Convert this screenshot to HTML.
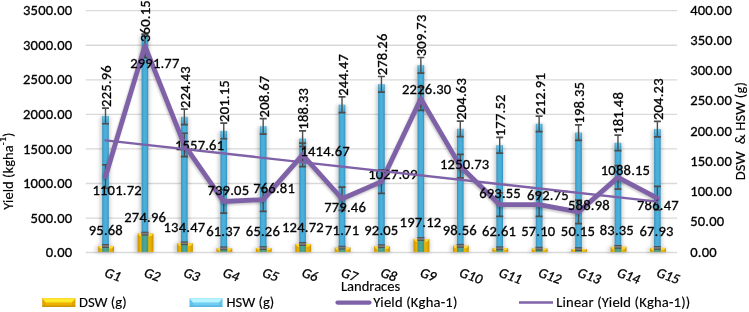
<!DOCTYPE html>
<html><head><meta charset="utf-8"><style>
html,body{margin:0;padding:0;background:#fff;width:749px;height:312px;overflow:hidden}
svg{display:block}
</style></head><body>
<svg width="749" height="312" viewBox="0 0 749 312" font-family="Carlito, 'Liberation Sans', sans-serif" font-size="14.6" letter-spacing="0.2" style="font-size-adjust:0.4775">
<defs>
<linearGradient id="gd" x1="0" y1="0" x2="1" y2="0">
<stop offset="0" stop-color="#C89400"/><stop offset="0.18" stop-color="#E9B000"/><stop offset="0.5" stop-color="#F2BC00"/><stop offset="0.82" stop-color="#E9B000"/><stop offset="1" stop-color="#C89400"/>
</linearGradient>
<linearGradient id="gh" x1="0" y1="0" x2="1" y2="0">
<stop offset="0" stop-color="#3590BC"/><stop offset="0.25" stop-color="#45AAD6"/><stop offset="0.5" stop-color="#4CB2DC"/><stop offset="0.75" stop-color="#45AAD6"/><stop offset="1" stop-color="#3590BC"/>
</linearGradient>
<linearGradient id="gt" x1="0" y1="0" x2="1" y2="0">
<stop offset="0" stop-color="#3F9488"/><stop offset="0.5" stop-color="#4DA89C"/><stop offset="1" stop-color="#3F9488"/>
</linearGradient>
<linearGradient id="gl1" x1="0" y1="0" x2="0" y2="1">
<stop offset="0" stop-color="#FFE45A"/><stop offset="0.5" stop-color="#FFD21E"/><stop offset="1" stop-color="#D9A000"/>
</linearGradient>
<linearGradient id="gl2" x1="0" y1="0" x2="0" y2="1">
<stop offset="0" stop-color="#C8F2FC"/><stop offset="0.5" stop-color="#9BE0F5"/><stop offset="1" stop-color="#55B8DE"/>
</linearGradient>
<linearGradient id="gtop" x1="0" y1="0" x2="0" y2="1"><stop offset="0" stop-color="#7FD8F4" stop-opacity="0.75"/><stop offset="1" stop-color="#7FD8F4" stop-opacity="0"/></linearGradient>
<filter id="sh" x="-50%" y="-10%" width="200%" height="120%"><feGaussianBlur stdDeviation="2.3"/></filter>
<filter id="sh2" x="-10%" y="-20%" width="120%" height="140%"><feGaussianBlur stdDeviation="1.3"/></filter>
</defs>
<rect width="749" height="312" fill="#fff"/>
<line x1="85.79" y1="218.04" x2="677.09" y2="218.04" stroke="#D9D9D9" stroke-width="1.3"/>
<line x1="85.79" y1="183.49" x2="677.09" y2="183.49" stroke="#D9D9D9" stroke-width="1.3"/>
<line x1="85.79" y1="148.93" x2="677.09" y2="148.93" stroke="#D9D9D9" stroke-width="1.3"/>
<line x1="85.79" y1="114.37" x2="677.09" y2="114.37" stroke="#D9D9D9" stroke-width="1.3"/>
<line x1="85.79" y1="79.81" x2="677.09" y2="79.81" stroke="#D9D9D9" stroke-width="1.3"/>
<line x1="85.79" y1="45.26" x2="677.09" y2="45.26" stroke="#D9D9D9" stroke-width="1.3"/>
<line x1="85.79" y1="10.70" x2="677.09" y2="10.70" stroke="#D9D9D9" stroke-width="1.3"/>
<line x1="85.79" y1="252.60" x2="677.09" y2="252.60" stroke="#D9D9D9" stroke-width="1.5"/>
<g filter="url(#sh)" fill="#000" opacity="0.24">
<rect x="100.60" y="116.45" width="9.0" height="136.15"/>
<rect x="96.00" y="246.49" width="18.2" height="6.11"/>
<rect x="140.02" y="35.30" width="9.0" height="217.30"/>
<rect x="135.42" y="234.10" width="18.2" height="18.50"/>
<rect x="179.44" y="117.38" width="9.0" height="135.22"/>
<rect x="174.84" y="243.81" width="18.2" height="8.79"/>
<rect x="218.86" y="131.45" width="9.0" height="121.15"/>
<rect x="214.26" y="248.86" width="18.2" height="3.74"/>
<rect x="258.28" y="126.91" width="9.0" height="125.69"/>
<rect x="253.68" y="248.59" width="18.2" height="4.01"/>
<rect x="297.70" y="139.21" width="9.0" height="113.39"/>
<rect x="293.10" y="244.48" width="18.2" height="8.12"/>
<rect x="337.12" y="105.26" width="9.0" height="147.34"/>
<rect x="332.52" y="248.14" width="18.2" height="4.46"/>
<rect x="376.54" y="84.82" width="9.0" height="167.78"/>
<rect x="371.94" y="246.74" width="18.2" height="5.86"/>
<rect x="415.96" y="65.79" width="9.0" height="186.81"/>
<rect x="411.36" y="239.48" width="18.2" height="13.12"/>
<rect x="455.38" y="129.35" width="9.0" height="123.25"/>
<rect x="450.78" y="246.29" width="18.2" height="6.31"/>
<rect x="494.80" y="145.74" width="9.0" height="106.86"/>
<rect x="490.20" y="248.77" width="18.2" height="3.83"/>
<rect x="534.22" y="124.34" width="9.0" height="128.26"/>
<rect x="529.62" y="249.15" width="18.2" height="3.45"/>
<rect x="573.64" y="133.15" width="9.0" height="119.45"/>
<rect x="569.04" y="249.63" width="18.2" height="2.97"/>
<rect x="613.06" y="143.35" width="9.0" height="109.25"/>
<rect x="608.46" y="247.34" width="18.2" height="5.26"/>
<rect x="652.48" y="129.59" width="9.0" height="123.01"/>
<rect x="647.88" y="248.41" width="18.2" height="4.19"/>
</g>
<rect x="98.20" y="245.99" width="15.8" height="5.91" fill="url(#gd)"/>
<path d="M98.20 245.99h15.8l-2 2.50h-11.8z" fill="#FFD93A"/>
<rect x="137.62" y="233.60" width="15.8" height="18.30" fill="url(#gd)"/>
<path d="M137.62 233.60h15.8l-2 2.50h-11.8z" fill="#FFD93A"/>
<rect x="177.04" y="243.31" width="15.8" height="8.59" fill="url(#gd)"/>
<path d="M177.04 243.31h15.8l-2 2.50h-11.8z" fill="#FFD93A"/>
<rect x="216.46" y="248.36" width="15.8" height="3.54" fill="url(#gd)"/>
<path d="M216.46 248.36h15.8l-2 1.77h-11.8z" fill="#FFD93A"/>
<rect x="255.88" y="248.09" width="15.8" height="3.81" fill="url(#gd)"/>
<path d="M255.88 248.09h15.8l-2 1.91h-11.8z" fill="#FFD93A"/>
<rect x="295.30" y="243.98" width="15.8" height="7.92" fill="url(#gd)"/>
<path d="M295.30 243.98h15.8l-2 2.50h-11.8z" fill="#FFD93A"/>
<rect x="334.72" y="247.64" width="15.8" height="4.26" fill="url(#gd)"/>
<path d="M334.72 247.64h15.8l-2 2.13h-11.8z" fill="#FFD93A"/>
<rect x="374.14" y="246.24" width="15.8" height="5.66" fill="url(#gd)"/>
<path d="M374.14 246.24h15.8l-2 2.50h-11.8z" fill="#FFD93A"/>
<rect x="413.56" y="238.98" width="15.8" height="12.92" fill="url(#gd)"/>
<path d="M413.56 238.98h15.8l-2 2.50h-11.8z" fill="#FFD93A"/>
<rect x="452.98" y="245.79" width="15.8" height="6.11" fill="url(#gd)"/>
<path d="M452.98 245.79h15.8l-2 2.50h-11.8z" fill="#FFD93A"/>
<rect x="492.40" y="248.27" width="15.8" height="3.63" fill="url(#gd)"/>
<path d="M492.40 248.27h15.8l-2 1.81h-11.8z" fill="#FFD93A"/>
<rect x="531.82" y="248.65" width="15.8" height="3.25" fill="url(#gd)"/>
<path d="M531.82 248.65h15.8l-2 1.62h-11.8z" fill="#FFD93A"/>
<rect x="571.24" y="249.13" width="15.8" height="2.77" fill="url(#gd)"/>
<path d="M571.24 249.13h15.8l-2 1.38h-11.8z" fill="#FFD93A"/>
<rect x="610.66" y="246.84" width="15.8" height="5.06" fill="url(#gd)"/>
<path d="M610.66 246.84h15.8l-2 2.50h-11.8z" fill="#FFD93A"/>
<rect x="650.08" y="247.91" width="15.8" height="3.99" fill="url(#gd)"/>
<path d="M650.08 247.91h15.8l-2 2.00h-11.8z" fill="#FFD93A"/>
<rect x="102.20" y="115.95" width="6.6" height="130.04" fill="url(#gh)"/>
<rect x="102.20" y="245.99" width="6.6" height="5.91" fill="url(#gt)"/>
<rect x="103.00" y="115.95" width="5.00" height="6" fill="url(#gtop)"/>
<rect x="141.62" y="34.80" width="6.6" height="198.80" fill="url(#gh)"/>
<rect x="141.62" y="233.60" width="6.6" height="18.30" fill="url(#gt)"/>
<rect x="142.42" y="34.80" width="5.00" height="6" fill="url(#gtop)"/>
<rect x="181.04" y="116.88" width="6.6" height="126.43" fill="url(#gh)"/>
<rect x="181.04" y="243.31" width="6.6" height="8.59" fill="url(#gt)"/>
<rect x="181.84" y="116.88" width="5.00" height="6" fill="url(#gtop)"/>
<rect x="220.46" y="130.95" width="6.6" height="117.40" fill="url(#gh)"/>
<rect x="220.46" y="248.36" width="6.6" height="3.54" fill="url(#gt)"/>
<rect x="221.26" y="130.95" width="5.00" height="6" fill="url(#gtop)"/>
<rect x="259.88" y="126.41" width="6.6" height="121.68" fill="url(#gh)"/>
<rect x="259.88" y="248.09" width="6.6" height="3.81" fill="url(#gt)"/>
<rect x="260.68" y="126.41" width="5.00" height="6" fill="url(#gtop)"/>
<rect x="299.30" y="138.71" width="6.6" height="105.27" fill="url(#gh)"/>
<rect x="299.30" y="243.98" width="6.6" height="7.92" fill="url(#gt)"/>
<rect x="300.10" y="138.71" width="5.00" height="6" fill="url(#gtop)"/>
<rect x="338.72" y="104.76" width="6.6" height="142.89" fill="url(#gh)"/>
<rect x="338.72" y="247.64" width="6.6" height="4.26" fill="url(#gt)"/>
<rect x="339.52" y="104.76" width="5.00" height="6" fill="url(#gtop)"/>
<rect x="378.14" y="84.32" width="6.6" height="161.92" fill="url(#gh)"/>
<rect x="378.14" y="246.24" width="6.6" height="5.66" fill="url(#gt)"/>
<rect x="378.94" y="84.32" width="5.00" height="6" fill="url(#gtop)"/>
<rect x="417.56" y="65.29" width="6.6" height="173.69" fill="url(#gh)"/>
<rect x="417.56" y="238.98" width="6.6" height="12.92" fill="url(#gt)"/>
<rect x="418.36" y="65.29" width="5.00" height="6" fill="url(#gtop)"/>
<rect x="456.98" y="128.85" width="6.6" height="116.94" fill="url(#gh)"/>
<rect x="456.98" y="245.79" width="6.6" height="6.11" fill="url(#gt)"/>
<rect x="457.78" y="128.85" width="5.00" height="6" fill="url(#gtop)"/>
<rect x="496.40" y="145.24" width="6.6" height="103.03" fill="url(#gh)"/>
<rect x="496.40" y="248.27" width="6.6" height="3.63" fill="url(#gt)"/>
<rect x="497.20" y="145.24" width="5.00" height="6" fill="url(#gtop)"/>
<rect x="535.82" y="123.84" width="6.6" height="124.81" fill="url(#gh)"/>
<rect x="535.82" y="248.65" width="6.6" height="3.25" fill="url(#gt)"/>
<rect x="536.62" y="123.84" width="5.00" height="6" fill="url(#gtop)"/>
<rect x="575.24" y="132.65" width="6.6" height="116.49" fill="url(#gh)"/>
<rect x="575.24" y="249.13" width="6.6" height="2.77" fill="url(#gt)"/>
<rect x="576.04" y="132.65" width="5.00" height="6" fill="url(#gtop)"/>
<rect x="614.66" y="142.85" width="6.6" height="103.99" fill="url(#gh)"/>
<rect x="614.66" y="246.84" width="6.6" height="5.06" fill="url(#gt)"/>
<rect x="615.46" y="142.85" width="5.00" height="6" fill="url(#gtop)"/>
<rect x="654.08" y="129.09" width="6.6" height="118.81" fill="url(#gh)"/>
<rect x="654.08" y="247.91" width="6.6" height="3.99" fill="url(#gt)"/>
<rect x="654.88" y="129.09" width="5.00" height="6" fill="url(#gtop)"/>
<path d="M105.50 108.15V123.75" stroke="#4D4D4D" stroke-width="1.4" fill="none"/>
<path d="M102.00 108.15h7M102.00 123.75h7" stroke="#4D4D4D" stroke-width="1.7" fill="none"/>
<rect x="102.00" y="244.39" width="7" height="3.2" fill="#7A7A7A"/>
<path d="M102.00 244.59h7M102.00 247.39h7" stroke="#4A4A4A" stroke-width="0.9"/>
<path d="M105.50 164.76V188.16" stroke="#4D4D4D" stroke-width="1.4" fill="none"/>
<path d="M102.00 164.76h7M102.00 188.16h7" stroke="#4D4D4D" stroke-width="1.7" fill="none"/>
<rect x="141.42" y="232.00" width="7" height="3.2" fill="#7A7A7A"/>
<path d="M141.42 232.20h7M141.42 235.00h7" stroke="#4A4A4A" stroke-width="0.9"/>
<path d="M144.92 34.13V57.53" stroke="#4D4D4D" stroke-width="1.4" fill="none"/>
<path d="M141.42 34.13h7M141.42 57.53h7" stroke="#4D4D4D" stroke-width="1.7" fill="none"/>
<path d="M184.34 109.08V124.68" stroke="#4D4D4D" stroke-width="1.4" fill="none"/>
<path d="M180.84 109.08h7M180.84 124.68h7" stroke="#4D4D4D" stroke-width="1.7" fill="none"/>
<rect x="180.84" y="241.71" width="7" height="3.2" fill="#7A7A7A"/>
<path d="M180.84 241.91h7M180.84 244.71h7" stroke="#4A4A4A" stroke-width="0.9"/>
<path d="M184.34 133.25V156.65" stroke="#4D4D4D" stroke-width="1.4" fill="none"/>
<path d="M180.84 133.25h7M180.84 156.65h7" stroke="#4D4D4D" stroke-width="1.7" fill="none"/>
<path d="M223.76 123.15V138.75" stroke="#4D4D4D" stroke-width="1.4" fill="none"/>
<path d="M220.26 123.15h7M220.26 138.75h7" stroke="#4D4D4D" stroke-width="1.7" fill="none"/>
<rect x="220.26" y="246.76" width="7" height="3.2" fill="#7A7A7A"/>
<path d="M220.26 246.96h7M220.26 249.76h7" stroke="#4A4A4A" stroke-width="0.9"/>
<path d="M223.76 189.82V213.22" stroke="#4D4D4D" stroke-width="1.4" fill="none"/>
<path d="M220.26 189.82h7M220.26 213.22h7" stroke="#4D4D4D" stroke-width="1.7" fill="none"/>
<path d="M263.18 118.61V134.21" stroke="#4D4D4D" stroke-width="1.4" fill="none"/>
<path d="M259.68 118.61h7M259.68 134.21h7" stroke="#4D4D4D" stroke-width="1.7" fill="none"/>
<rect x="259.68" y="246.49" width="7" height="3.2" fill="#7A7A7A"/>
<path d="M259.68 246.69h7M259.68 249.49h7" stroke="#4A4A4A" stroke-width="0.9"/>
<path d="M263.18 187.90V211.30" stroke="#4D4D4D" stroke-width="1.4" fill="none"/>
<path d="M259.68 187.90h7M259.68 211.30h7" stroke="#4D4D4D" stroke-width="1.7" fill="none"/>
<path d="M302.60 130.91V146.51" stroke="#4D4D4D" stroke-width="1.4" fill="none"/>
<path d="M299.10 130.91h7M299.10 146.51h7" stroke="#4D4D4D" stroke-width="1.7" fill="none"/>
<rect x="299.10" y="242.38" width="7" height="3.2" fill="#7A7A7A"/>
<path d="M299.10 242.58h7M299.10 245.38h7" stroke="#4A4A4A" stroke-width="0.9"/>
<path d="M302.60 143.13V166.53" stroke="#4D4D4D" stroke-width="1.4" fill="none"/>
<path d="M299.10 143.13h7M299.10 166.53h7" stroke="#4D4D4D" stroke-width="1.7" fill="none"/>
<path d="M342.02 96.96V112.56" stroke="#4D4D4D" stroke-width="1.4" fill="none"/>
<path d="M338.52 96.96h7M338.52 112.56h7" stroke="#4D4D4D" stroke-width="1.7" fill="none"/>
<rect x="338.52" y="246.04" width="7" height="3.2" fill="#7A7A7A"/>
<path d="M338.52 246.24h7M338.52 249.04h7" stroke="#4A4A4A" stroke-width="0.9"/>
<path d="M342.02 187.03V210.43" stroke="#4D4D4D" stroke-width="1.4" fill="none"/>
<path d="M338.52 187.03h7M338.52 210.43h7" stroke="#4D4D4D" stroke-width="1.7" fill="none"/>
<path d="M381.44 76.52V92.12" stroke="#4D4D4D" stroke-width="1.4" fill="none"/>
<path d="M377.94 76.52h7M377.94 92.12h7" stroke="#4D4D4D" stroke-width="1.7" fill="none"/>
<rect x="377.94" y="244.64" width="7" height="3.2" fill="#7A7A7A"/>
<path d="M377.94 244.84h7M377.94 247.64h7" stroke="#4A4A4A" stroke-width="0.9"/>
<path d="M381.44 169.91V193.31" stroke="#4D4D4D" stroke-width="1.4" fill="none"/>
<path d="M377.94 169.91h7M377.94 193.31h7" stroke="#4D4D4D" stroke-width="1.7" fill="none"/>
<path d="M420.86 57.49V73.09" stroke="#4D4D4D" stroke-width="1.4" fill="none"/>
<path d="M417.36 57.49h7M417.36 73.09h7" stroke="#4D4D4D" stroke-width="1.7" fill="none"/>
<rect x="417.36" y="237.38" width="7" height="3.2" fill="#7A7A7A"/>
<path d="M417.36 237.58h7M417.36 240.38h7" stroke="#4A4A4A" stroke-width="0.9"/>
<path d="M420.86 87.03V110.43" stroke="#4D4D4D" stroke-width="1.4" fill="none"/>
<path d="M417.36 87.03h7M417.36 110.43h7" stroke="#4D4D4D" stroke-width="1.7" fill="none"/>
<path d="M460.28 121.05V136.65" stroke="#4D4D4D" stroke-width="1.4" fill="none"/>
<path d="M456.78 121.05h7M456.78 136.65h7" stroke="#4D4D4D" stroke-width="1.7" fill="none"/>
<rect x="456.78" y="244.19" width="7" height="3.2" fill="#7A7A7A"/>
<path d="M456.78 244.39h7M456.78 247.19h7" stroke="#4A4A4A" stroke-width="0.9"/>
<path d="M460.28 154.46V177.86" stroke="#4D4D4D" stroke-width="1.4" fill="none"/>
<path d="M456.78 154.46h7M456.78 177.86h7" stroke="#4D4D4D" stroke-width="1.7" fill="none"/>
<path d="M499.70 137.44V153.04" stroke="#4D4D4D" stroke-width="1.4" fill="none"/>
<path d="M496.20 137.44h7M496.20 153.04h7" stroke="#4D4D4D" stroke-width="1.7" fill="none"/>
<rect x="496.20" y="246.67" width="7" height="3.2" fill="#7A7A7A"/>
<path d="M496.20 246.87h7M496.20 249.67h7" stroke="#4A4A4A" stroke-width="0.9"/>
<path d="M499.70 192.97V216.37" stroke="#4D4D4D" stroke-width="1.4" fill="none"/>
<path d="M496.20 192.97h7M496.20 216.37h7" stroke="#4D4D4D" stroke-width="1.7" fill="none"/>
<path d="M539.12 116.04V131.64" stroke="#4D4D4D" stroke-width="1.4" fill="none"/>
<path d="M535.62 116.04h7M535.62 131.64h7" stroke="#4D4D4D" stroke-width="1.7" fill="none"/>
<rect x="535.62" y="247.05" width="7" height="3.2" fill="#7A7A7A"/>
<path d="M535.62 247.25h7M535.62 250.05h7" stroke="#4A4A4A" stroke-width="0.9"/>
<path d="M539.12 193.02V216.42" stroke="#4D4D4D" stroke-width="1.4" fill="none"/>
<path d="M535.62 193.02h7M535.62 216.42h7" stroke="#4D4D4D" stroke-width="1.7" fill="none"/>
<path d="M578.54 124.85V140.45" stroke="#4D4D4D" stroke-width="1.4" fill="none"/>
<path d="M575.04 124.85h7M575.04 140.45h7" stroke="#4D4D4D" stroke-width="1.7" fill="none"/>
<rect x="575.04" y="247.53" width="7" height="3.2" fill="#7A7A7A"/>
<path d="M575.04 247.73h7M575.04 250.53h7" stroke="#4A4A4A" stroke-width="0.9"/>
<path d="M578.54 200.19V223.59" stroke="#4D4D4D" stroke-width="1.4" fill="none"/>
<path d="M575.04 200.19h7M575.04 223.59h7" stroke="#4D4D4D" stroke-width="1.7" fill="none"/>
<path d="M617.96 135.05V150.65" stroke="#4D4D4D" stroke-width="1.4" fill="none"/>
<path d="M614.46 135.05h7M614.46 150.65h7" stroke="#4D4D4D" stroke-width="1.7" fill="none"/>
<rect x="614.46" y="245.24" width="7" height="3.2" fill="#7A7A7A"/>
<path d="M614.46 245.44h7M614.46 248.24h7" stroke="#4A4A4A" stroke-width="0.9"/>
<path d="M617.96 165.69V189.09" stroke="#4D4D4D" stroke-width="1.4" fill="none"/>
<path d="M614.46 165.69h7M614.46 189.09h7" stroke="#4D4D4D" stroke-width="1.7" fill="none"/>
<path d="M657.38 121.29V136.89" stroke="#4D4D4D" stroke-width="1.4" fill="none"/>
<path d="M653.88 121.29h7M653.88 136.89h7" stroke="#4D4D4D" stroke-width="1.7" fill="none"/>
<rect x="653.88" y="246.31" width="7" height="3.2" fill="#7A7A7A"/>
<path d="M653.88 246.51h7M653.88 249.31h7" stroke="#4A4A4A" stroke-width="0.9"/>
<path d="M657.38 186.41V209.81" stroke="#4D4D4D" stroke-width="1.4" fill="none"/>
<path d="M653.88 186.41h7M653.88 209.81h7" stroke="#4D4D4D" stroke-width="1.7" fill="none"/>
<polyline points="105.50,176.46 144.92,45.83 184.34,144.95 223.76,201.52 263.18,199.60 302.60,154.83 342.02,198.73 381.44,181.61 420.86,98.73 460.28,166.16 499.70,204.67 539.12,204.72 578.54,211.89 617.96,177.39 657.38,198.11" fill="none" stroke="#000" stroke-opacity="0.22" stroke-width="4.8" stroke-linejoin="round" stroke-linecap="round" transform="translate(-0.8,1.6)" filter="url(#sh2)"/>
<polyline points="105.50,176.46 144.92,45.83 184.34,144.95 223.76,201.52 263.18,199.60 302.60,154.83 342.02,198.73 381.44,181.61 420.86,98.73 460.28,166.16 499.70,204.67 539.12,204.72 578.54,211.89 617.96,177.39 657.38,198.11" fill="none" stroke="#7F61A8" stroke-width="4.8" stroke-linejoin="round" stroke-linecap="round"/>
<g fill="#000" stroke="#000" stroke-width="0.3">
<text x="72.40" y="257.20" text-anchor="end"  textLength="26.66" lengthAdjust="spacingAndGlyphs">0.00</text>
<text x="72.40" y="222.64" text-anchor="end"  textLength="41.83" lengthAdjust="spacingAndGlyphs">500.00</text>
<text x="72.40" y="188.09" text-anchor="end"  textLength="49.42" lengthAdjust="spacingAndGlyphs">1000.00</text>
<text x="72.40" y="153.53" text-anchor="end"  textLength="49.42" lengthAdjust="spacingAndGlyphs">1500.00</text>
<text x="72.40" y="118.97" text-anchor="end"  textLength="49.42" lengthAdjust="spacingAndGlyphs">2000.00</text>
<text x="72.40" y="84.41" text-anchor="end"  textLength="49.42" lengthAdjust="spacingAndGlyphs">2500.00</text>
<text x="72.40" y="49.86" text-anchor="end"  textLength="49.42" lengthAdjust="spacingAndGlyphs">3000.00</text>
<text x="72.40" y="15.30" text-anchor="end"  textLength="49.42" lengthAdjust="spacingAndGlyphs">3500.00</text>
<text x="690.20" y="256.60" text-anchor="start"  textLength="26.66" lengthAdjust="spacingAndGlyphs">0.00</text>
<text x="690.20" y="226.36" text-anchor="start"  textLength="34.25" lengthAdjust="spacingAndGlyphs">50.00</text>
<text x="690.20" y="196.12" text-anchor="start"  textLength="41.83" lengthAdjust="spacingAndGlyphs">100.00</text>
<text x="690.20" y="165.89" text-anchor="start"  textLength="41.83" lengthAdjust="spacingAndGlyphs">150.00</text>
<text x="690.20" y="135.65" text-anchor="start"  textLength="41.83" lengthAdjust="spacingAndGlyphs">200.00</text>
<text x="690.20" y="105.41" text-anchor="start"  textLength="41.83" lengthAdjust="spacingAndGlyphs">250.00</text>
<text x="690.20" y="75.17" text-anchor="start"  textLength="41.83" lengthAdjust="spacingAndGlyphs">300.00</text>
<text x="690.20" y="44.94" text-anchor="start"  textLength="41.83" lengthAdjust="spacingAndGlyphs">350.00</text>
<text x="690.20" y="14.70" text-anchor="start"  textLength="41.83" lengthAdjust="spacingAndGlyphs">400.00</text>
<text transform="translate(111.00,106.95) rotate(-90)" text-anchor="start" textLength="41.83" lengthAdjust="spacingAndGlyphs">225.96</text>
<text transform="translate(150.42,42.00) rotate(-90)" text-anchor="start" textLength="41.83" lengthAdjust="spacingAndGlyphs">360.15</text>
<text transform="translate(189.84,107.88) rotate(-90)" text-anchor="start" textLength="41.83" lengthAdjust="spacingAndGlyphs">224.43</text>
<text transform="translate(229.26,121.95) rotate(-90)" text-anchor="start" textLength="41.83" lengthAdjust="spacingAndGlyphs">201.15</text>
<text transform="translate(268.68,117.41) rotate(-90)" text-anchor="start" textLength="41.83" lengthAdjust="spacingAndGlyphs">208.67</text>
<text transform="translate(308.10,129.71) rotate(-90)" text-anchor="start" textLength="41.83" lengthAdjust="spacingAndGlyphs">188.33</text>
<text transform="translate(347.52,95.76) rotate(-90)" text-anchor="start" textLength="41.83" lengthAdjust="spacingAndGlyphs">244.47</text>
<text transform="translate(386.94,75.32) rotate(-90)" text-anchor="start" textLength="41.83" lengthAdjust="spacingAndGlyphs">278.26</text>
<text transform="translate(426.36,56.29) rotate(-90)" text-anchor="start" textLength="41.83" lengthAdjust="spacingAndGlyphs">309.73</text>
<text transform="translate(465.78,119.85) rotate(-90)" text-anchor="start" textLength="41.83" lengthAdjust="spacingAndGlyphs">204.63</text>
<text transform="translate(505.20,136.24) rotate(-90)" text-anchor="start" textLength="41.83" lengthAdjust="spacingAndGlyphs">177.52</text>
<text transform="translate(544.62,114.84) rotate(-90)" text-anchor="start" textLength="41.83" lengthAdjust="spacingAndGlyphs">212.91</text>
<text transform="translate(584.04,123.65) rotate(-90)" text-anchor="start" textLength="41.83" lengthAdjust="spacingAndGlyphs">198.35</text>
<text transform="translate(623.46,133.85) rotate(-90)" text-anchor="start" textLength="41.83" lengthAdjust="spacingAndGlyphs">181.48</text>
<text transform="translate(662.88,120.09) rotate(-90)" text-anchor="start" textLength="41.83" lengthAdjust="spacingAndGlyphs">204.23</text>
<text x="105.85" y="234.80" text-anchor="middle"  textLength="34.25" lengthAdjust="spacingAndGlyphs">95.68</text>
<text x="145.20" y="222.20" text-anchor="middle"  textLength="41.83" lengthAdjust="spacingAndGlyphs">274.96</text>
<text x="184.45" y="231.80" text-anchor="middle"  textLength="41.83" lengthAdjust="spacingAndGlyphs">134.47</text>
<text x="223.30" y="236.40" text-anchor="middle"  textLength="34.25" lengthAdjust="spacingAndGlyphs">61.37</text>
<text x="262.95" y="236.20" text-anchor="middle"  textLength="34.25" lengthAdjust="spacingAndGlyphs">65.26</text>
<text x="302.90" y="232.20" text-anchor="middle"  textLength="41.83" lengthAdjust="spacingAndGlyphs">124.72</text>
<text x="342.15" y="235.40" text-anchor="middle"  textLength="34.25" lengthAdjust="spacingAndGlyphs">71.71</text>
<text x="381.35" y="234.60" text-anchor="middle"  textLength="34.25" lengthAdjust="spacingAndGlyphs">92.05</text>
<text x="420.50" y="227.40" text-anchor="middle"  textLength="41.83" lengthAdjust="spacingAndGlyphs">197.12</text>
<text x="459.75" y="234.60" text-anchor="middle"  textLength="34.25" lengthAdjust="spacingAndGlyphs">98.56</text>
<text x="499.05" y="236.25" text-anchor="middle"  textLength="34.25" lengthAdjust="spacingAndGlyphs">62.61</text>
<text x="538.30" y="236.25" text-anchor="middle"  textLength="34.25" lengthAdjust="spacingAndGlyphs">57.10</text>
<text x="577.95" y="236.25" text-anchor="middle"  textLength="34.25" lengthAdjust="spacingAndGlyphs">50.15</text>
<text x="616.85" y="235.00" text-anchor="middle"  textLength="34.25" lengthAdjust="spacingAndGlyphs">83.35</text>
<text x="656.50" y="235.90" text-anchor="middle"  textLength="34.25" lengthAdjust="spacingAndGlyphs">67.93</text>
<text x="117.15" y="195.00" text-anchor="middle"  textLength="49.42" lengthAdjust="spacingAndGlyphs">1101.72</text>
<text x="154.85" y="67.90" text-anchor="middle"  textLength="49.42" lengthAdjust="spacingAndGlyphs">2991.77</text>
<text x="199.60" y="149.80" text-anchor="middle"  textLength="49.42" lengthAdjust="spacingAndGlyphs">1557.61</text>
<text x="228.35" y="195.00" text-anchor="middle"  textLength="41.83" lengthAdjust="spacingAndGlyphs">739.05</text>
<text x="274.10" y="193.00" text-anchor="middle"  textLength="41.83" lengthAdjust="spacingAndGlyphs">766.81</text>
<text x="325.12" y="155.60" text-anchor="middle"  textLength="49.42" lengthAdjust="spacingAndGlyphs">1414.67</text>
<text x="345.10" y="212.20" text-anchor="middle"  textLength="41.83" lengthAdjust="spacingAndGlyphs">779.46</text>
<text x="392.85" y="178.50" text-anchor="middle"  textLength="49.42" lengthAdjust="spacingAndGlyphs">1027.09</text>
<text x="426.75" y="93.70" text-anchor="middle"  textLength="49.42" lengthAdjust="spacingAndGlyphs">2226.30</text>
<text x="464.75" y="168.60" text-anchor="middle"  textLength="49.42" lengthAdjust="spacingAndGlyphs">1250.73</text>
<text x="500.05" y="198.35" text-anchor="middle"  textLength="41.83" lengthAdjust="spacingAndGlyphs">693.55</text>
<text x="547.95" y="200.00" text-anchor="middle"  textLength="41.83" lengthAdjust="spacingAndGlyphs">692.75</text>
<text x="588.95" y="209.60" text-anchor="middle"  textLength="41.83" lengthAdjust="spacingAndGlyphs">588.98</text>
<text x="625.50" y="175.40" text-anchor="middle"  textLength="49.42" lengthAdjust="spacingAndGlyphs">1088.15</text>
<text x="657.90" y="210.20" text-anchor="middle"  textLength="41.83" lengthAdjust="spacingAndGlyphs">786.47</text>
<text transform="translate(103.80,276.3) rotate(20)" text-anchor="start" font-style="italic" letter-spacing="0" font-size="14.2" textLength="16.06" lengthAdjust="spacingAndGlyphs">G1</text>
<text transform="translate(143.22,276.3) rotate(20)" text-anchor="start" font-style="italic" letter-spacing="0" font-size="14.2" textLength="16.06" lengthAdjust="spacingAndGlyphs">G2</text>
<text transform="translate(182.64,276.3) rotate(20)" text-anchor="start" font-style="italic" letter-spacing="0" font-size="14.2" textLength="16.06" lengthAdjust="spacingAndGlyphs">G3</text>
<text transform="translate(222.06,276.3) rotate(20)" text-anchor="start" font-style="italic" letter-spacing="0" font-size="14.2" textLength="16.06" lengthAdjust="spacingAndGlyphs">G4</text>
<text transform="translate(261.48,276.3) rotate(20)" text-anchor="start" font-style="italic" letter-spacing="0" font-size="14.2" textLength="16.06" lengthAdjust="spacingAndGlyphs">G5</text>
<text transform="translate(300.90,276.3) rotate(20)" text-anchor="start" font-style="italic" letter-spacing="0" font-size="14.2" textLength="16.06" lengthAdjust="spacingAndGlyphs">G6</text>
<text transform="translate(340.32,276.3) rotate(20)" text-anchor="start" font-style="italic" letter-spacing="0" font-size="14.2" textLength="16.06" lengthAdjust="spacingAndGlyphs">G7</text>
<text transform="translate(379.74,276.3) rotate(20)" text-anchor="start" font-style="italic" letter-spacing="0" font-size="14.2" textLength="16.06" lengthAdjust="spacingAndGlyphs">G8</text>
<text transform="translate(419.16,276.3) rotate(20)" text-anchor="start" font-style="italic" letter-spacing="0" font-size="14.2" textLength="16.06" lengthAdjust="spacingAndGlyphs">G9</text>
<text transform="translate(458.58,276.3) rotate(20)" text-anchor="start" font-style="italic" letter-spacing="0" font-size="14.2" textLength="23.22" lengthAdjust="spacingAndGlyphs">G10</text>
<text transform="translate(498.00,276.3) rotate(20)" text-anchor="start" font-style="italic" letter-spacing="0" font-size="14.2" textLength="23.22" lengthAdjust="spacingAndGlyphs">G11</text>
<text transform="translate(537.42,276.3) rotate(20)" text-anchor="start" font-style="italic" letter-spacing="0" font-size="14.2" textLength="23.22" lengthAdjust="spacingAndGlyphs">G12</text>
<text transform="translate(576.84,276.3) rotate(20)" text-anchor="start" font-style="italic" letter-spacing="0" font-size="14.2" textLength="23.22" lengthAdjust="spacingAndGlyphs">G13</text>
<text transform="translate(616.26,276.3) rotate(20)" text-anchor="start" font-style="italic" letter-spacing="0" font-size="14.2" textLength="23.22" lengthAdjust="spacingAndGlyphs">G14</text>
<text transform="translate(655.68,276.3) rotate(20)" text-anchor="start" font-style="italic" letter-spacing="0" font-size="14.2" textLength="23.22" lengthAdjust="spacingAndGlyphs">G15</text>
<text x="370.60" y="291.10" text-anchor="middle" stroke-width="0.15" letter-spacing="0" textLength="59.33" lengthAdjust="spacingAndGlyphs">Landraces</text>
<text transform="translate(12.6,171.2) rotate(-90)" text-anchor="middle" stroke-width="0.15" letter-spacing="0.03">Yield (kgha<tspan dy="-6.2" font-size="10">-1</tspan><tspan dy="6.2">)</tspan></text>
<text transform="translate(745,131.1) rotate(-90)" text-anchor="middle" xml:space="preserve" stroke-width="0.15" letter-spacing="0.16" textLength="98.33" lengthAdjust="spacingAndGlyphs">DSW  &amp; HSW (g)</text>
</g>
<line x1="105.50" y1="140.35" x2="657.38" y2="201.67" stroke="#7F61A8" stroke-width="2.4" stroke-linecap="round"/>
<rect x="42.2" y="298.2" width="33.20" height="8.60" fill="#E2A400"/>
<path d="M42.2 298.2H75.4L71.80 302.67H45.80Z" fill="#FFEA2C"/>
<rect x="45.80" y="302.67" width="26.00" height="2.93" fill="#EDB200"/>
<rect x="42.2" y="305.60" width="33.20" height="1.2" fill="#C89000"/>
<text x="79.00" y="307.00" text-anchor="start" letter-spacing="0" stroke="#000" stroke-width="0.15" textLength="47.61" lengthAdjust="spacingAndGlyphs">DSW (g)</text>
<rect x="189.5" y="298.2" width="33.00" height="8.60" fill="#5EC4EE"/>
<path d="M189.5 298.2H222.5L218.90 302.67H193.10Z" fill="#B8F4FE"/>
<rect x="193.10" y="302.67" width="25.80" height="2.93" fill="#72CDF2"/>
<rect x="189.5" y="305.60" width="33.00" height="1.2" fill="#52B2DE"/>
<text x="226.50" y="307.00" text-anchor="start" letter-spacing="0" stroke="#000" stroke-width="0.15" textLength="47.72" lengthAdjust="spacingAndGlyphs">HSW (g)</text>
<line x1="337.5" y1="302.6" x2="369.5" y2="302.6" stroke="#7F61A8" stroke-width="4.2" stroke-linecap="round"/>
<text x="373.30" y="307.00" text-anchor="start" letter-spacing="0.19" stroke="#000" stroke-width="0.15" textLength="84.22" lengthAdjust="spacingAndGlyphs">Yield (Kgha-1)</text>
<line x1="519" y1="302.4" x2="553" y2="302.4" stroke="#7F61A8" stroke-width="2.5"/>
<text x="556.30" y="307.00" text-anchor="start" letter-spacing="0.17" stroke="#000" stroke-width="0.15" textLength="134.05" lengthAdjust="spacingAndGlyphs">Linear (Yield (Kgha-1))</text>
</svg>
</body></html>
